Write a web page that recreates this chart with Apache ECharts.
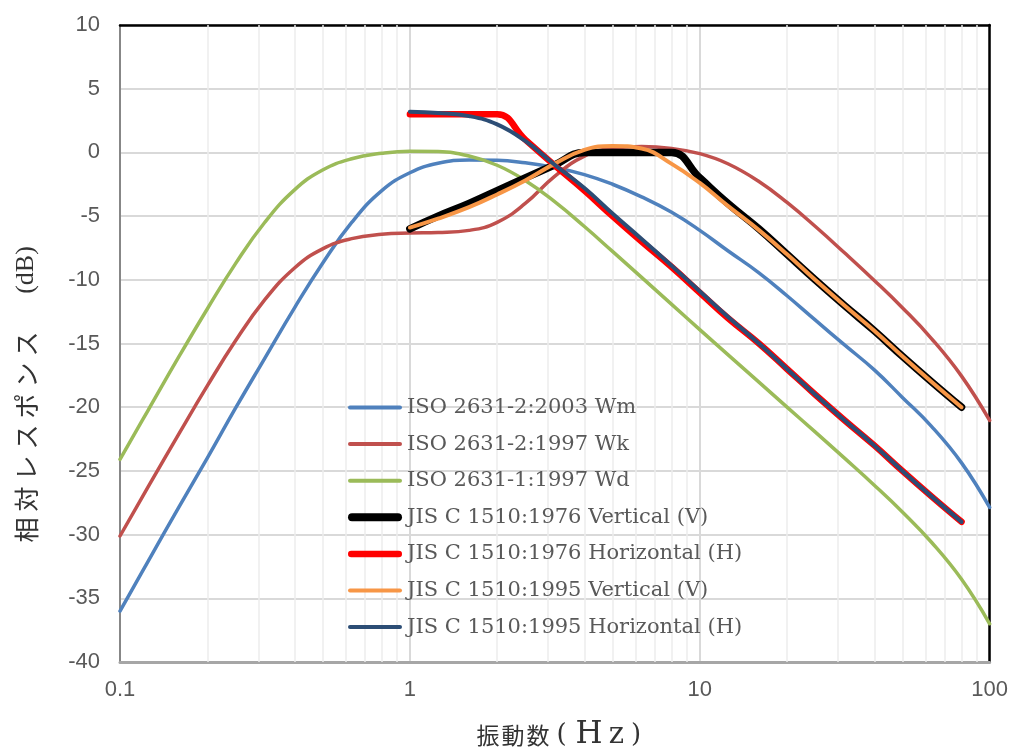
<!DOCTYPE html>
<html>
<head>
<meta charset="utf-8">
<script src="https://cdn.jsdelivr.net/npm/echarts@6/dist/echarts.min.js"></script>
<style>
html,body{margin:0;padding:0;background:#fff;}
#chart{width:1011px;height:749px;}
</style>
</head>
<body>
<div id="chart"></div>
<script>
// ---- data ----
const freq = [0.1,0.125,0.16,0.2,0.25,0.315,0.4,0.5,0.63,0.8,1,1.25,1.6,2,2.5,3.15,4,5,6.3,8,10,12.5,16,20,25,31.5,40,50,63,80,100];
const isoWm = [-36.0,-32.1,-27.8,-24.0,-20.1,-16.2,-12.2,-8.7,-5.5,-3.0,-1.6,-0.85,-0.59,-0.61,-0.82,-1.19,-1.74,-2.5,-3.49,-4.7,-6.12,-7.72,-9.45,-11.25,-13.15,-15.09,-17.07,-19.23,-21.5,-24.37,-27.87];
const isoWk = [-30.11,-26.26,-22.05,-18.33,-14.81,-11.6,-9.07,-7.57,-6.77,-6.43,-6.33,-6.29,-6.12,-5.49,-4.01,-1.9,-0.29,0.33,0.46,0.31,-0.1,-0.89,-2.28,-3.93,-5.8,-7.86,-10.05,-12.19,-14.61,-17.56,-21.04];
const isoWd = [-24.09,-20.24,-16.0,-12.29,-8.75,-5.52,-2.94,-1.38,-0.5,-0.07,0.1,0.07,-0.28,-1.01,-2.2,-3.85,-5.82,-7.77,-9.81,-11.93,-13.91,-15.87,-18.03,-19.99,-21.94,-23.98,-26.12,-28.22,-30.6,-33.51,-37.0];
const jisFreq = [1,1.25,1.6,2,2.5,3.15,4,5,6.3,8,10,12.5,16,20,25,31.5,40,50,63,80];
const jis1976V = [-6,-5,-4,-3,-2,-1,0,0,0,0,-2,-4,-6,-8,-10,-12,-14,-16,-18,-20];
const jis1976H = [3,3,3,3,1,-1,-3,-5,-7,-9,-11,-13,-15,-17,-19,-21,-23,-25,-27,-29];
const jis1995V = [-5.9,-5.2,-4.3,-3.3,-2.2,-0.9,0.2,0.5,0.3,-0.9,-2.4,-4.2,-6.1,-8.0,-10.0,-12.0,-14.0,-16.0,-18.0,-20.0];
const jis1995H = [3.2,3.1,2.85,2.2,0.9,-0.95,-2.8,-4.8,-6.8,-8.9,-10.9,-12.9,-15.0,-17.0,-19.0,-21.0,-23.0,-25.0,-27.0,-29.0];
const minorTicks = [0.2,0.3,0.4,0.5,0.6,0.7,0.8,0.9,2,3,4,5,6,7,8,9,20,30,40,50,60,70,80,90];
const seriesNames = ['ISO 2631-2:2003 Wm','ISO 2631-2:1997 Wk','ISO 2631-1:1997 Wd','JIS C 1510:1976 Vertical (V)','JIS C 1510:1976 Horizontal (H)','JIS C 1510:1995 Vertical (V)','JIS C 1510:1995 Horizontal (H)'];
const xNameChars = ['振','動','数'];
const xNameUnit = ['(','H','z',')'];
const yNameChars = ['相','対','レ','ス','ポ','ン','ス'];
const yNameUnit = '(dB)';

// ---- chart ----
const chart = echarts.init(document.getElementById('chart'), null, {renderer:'canvas'});
const styles = [
  {color:'#4f81bd', width:3.5, icon:4},
  {color:'#c0504d', width:3.5, icon:4},
  {color:'#9bbb59', width:3.5, icon:4},
  {color:'#000000', width:7.5, icon:8},
  {color:'#ff0000', width:6.5, icon:6.5},
  {color:'#f79646', width:4, icon:4},
  {color:'#2c4d75', width:4, icon:4}
];
function iconPath(t){
  const r = t/2, L = 54 - t;
  return 'path://M' + r + ',0h' + L + 'a' + r + ',' + r + ' 0 0 1 0,' + t + 'h-' + L + 'a' + r + ',' + r + ' 0 0 1 0,-' + t + 'z';
}
function mk(i, xs, ys){
  const s = styles[i];
  return {
    name: seriesNames[i], type:'line', data: xs.map((x,k)=>[x, ys[k]]),
    smooth: 0.45, symbol:'none', showSymbol:false, z:3,
    lineStyle:{color:s.color, width:s.width, cap:'round', join:'round'},
    itemStyle:{color:s.color},
    emphasis:{disabled:true}
  };
}
const labelFont = {fontFamily:'"Liberation Sans", Arial, sans-serif', fontSize:22, color:'#595959'};

// rich text for axis names
let yText = yNameChars.map(c=>'{c|'+c+'}').join('');
let xText = xNameChars.map(c=>'{c|'+c+'}').join('') +
  '{p|' + xNameUnit[0] + '}{h|' + xNameUnit[1] + '}{z|' + xNameUnit[2] + '}{q|' + xNameUnit[3] + '}';

const option = {
  animation:false,
  backgroundColor:'#ffffff',
  grid:{left:120, right:20, top:25, bottom:87, containLabel:false},
  xAxis:[{
    type:'log', logBase:10, min:0.1, max:100, position:'bottom',
    axisLine:{show:true, onZero:false, lineStyle:{color:'#a6a6a6', width:3}},
    axisTick:{show:false},
    axisLabel:Object.assign({margin:17, formatter:function(v){return String(v);}}, labelFont),
    splitLine:{show:true, lineStyle:{color:'#d9d9d9', width:2}}
  },{
    type:'log', logBase:10, min:0.1, max:100, position:'top',
    axisLine:{show:true, onZero:false, lineStyle:{color:'#000000', width:2.5}},
    axisTick:{show:false}, axisLabel:{show:false}, splitLine:{show:false}
  }],
  yAxis:[{
    type:'value', min:-40, max:10, interval:5, position:'left',
    axisLine:{show:true, onZero:false, lineStyle:{color:'#6b6b6b', width:1.5}},
    axisTick:{show:false},
    axisLabel:Object.assign({margin:20}, labelFont),
    splitLine:{show:true, lineStyle:{color:'#d9d9d9', width:2}}
  },{
    type:'value', min:-40, max:10, interval:5, position:'right',
    axisLine:{show:true, onZero:false, lineStyle:{color:'#000000', width:2.5}},
    axisTick:{show:false}, axisLabel:{show:false}, splitLine:{show:false}
  }],
  legend:{
    data: seriesNames.map((n,i)=>({name:n, icon: iconPath(styles[i].icon), itemStyle:{color:styles[i].color}})),
    orient:'vertical', left:348, top:397, padding:0,
    itemWidth:54, itemHeight:20, itemGap:15.6,
    textStyle:{fontFamily:'"DejaVu Serif", serif', fontSize:21, color:'#595959', lineHeight:20},
    selectedMode:false
  },
  graphic:[{
    type:'text', x:26, y:437, rotation:Math.PI/2,
    style:{
      text: yText,
      align:'center', verticalAlign:'middle',
      rich:{
        c:{fontFamily:'"Noto Sans CJK JP", sans-serif', fontSize:25, fill:'#333333', width:31, align:'center'}
      }
    }
  },{
    type:'text', x:26, y:270, rotation:Math.PI/2,
    style:{
      text: yNameUnit,
      align:'center', verticalAlign:'middle',
      fontFamily:'"Liberation Serif", serif', fontSize:26, fill:'#333333'
    }
  },{
    type:'text', x:560, y:735,
    style:{
      text: xText,
      align:'center', verticalAlign:'middle',
      rich:{
        c:{fontFamily:'"Noto Sans CJK JP", sans-serif', fontSize:23, fill:'#333333', width:25, align:'center'},
        p:{fontFamily:'"DejaVu Serif", serif', fontSize:26, fill:'#333333', width:22, align:'right'},
        h:{fontFamily:'"DejaVu Serif", serif', fontSize:31, fill:'#333333', width:33, align:'center'},
        z:{fontFamily:'"DejaVu Serif", serif', fontSize:29, fill:'#333333', width:22, align:'center'},
        q:{fontFamily:'"DejaVu Serif", serif', fontSize:26, fill:'#333333', width:17, align:'left'}
      }
    }
  }],
  series:[
    {
      name:'minor', type:'line', data:[], z:1, silent:true,
      markLine:{
        silent:true, symbol:['none','none'], animation:false, z:1,
        label:{show:false},
        lineStyle:{color:'#ededed', width:1.5, type:'solid'},
        emphasis:{disabled:true},
        data: minorTicks.map(v=>({xAxis:v}))
      }
    },
    mk(0, freq, isoWm),
    mk(1, freq, isoWk),
    mk(2, freq, isoWd),
    mk(3, jisFreq, jis1976V),
    mk(4, jisFreq, jis1976H),
    mk(5, jisFreq, jis1995V),
    mk(6, jisFreq, jis1995H)
  ]
};
chart.setOption(option);
</script>
</body>
</html>
